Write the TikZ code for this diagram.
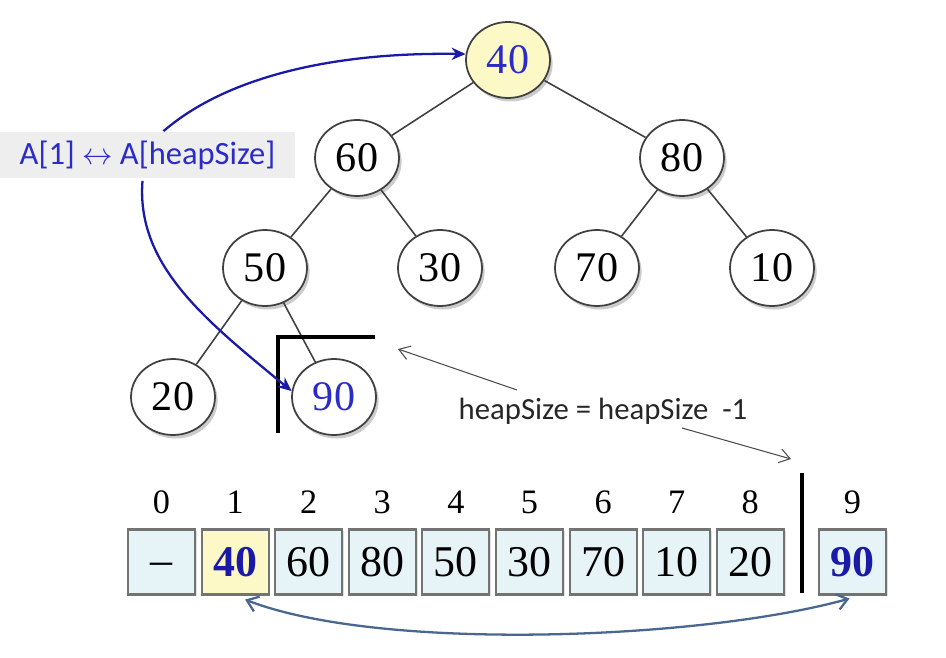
\documentclass[tikz,border=0pt]{standalone}
\usepackage{fontspec}
\newfontfamily\calib{Carlito}
\newfontfamily\tnr{Liberation Serif}
\usetikzlibrary{shapes.geometric,shadows,arrows.meta,calc}
\definecolor{nodeblue}{HTML}{2B2BC8}
\definecolor{arrblue}{HTML}{1A1AA6}
\definecolor{yel}{HTML}{FCF9C6}
\definecolor{cellfill}{HTML}{E6F3F7}
\definecolor{botarrow}{HTML}{4A6790}
\definecolor{lblbg}{HTML}{EEEEEE}
\tikzset{
  tnode/.style={ellipse, draw=black!75, line width=1pt, fill=white,
    minimum width=1.68cm, minimum height=1.52cm, inner sep=0pt,
    font=\tnr\fontsize{24}{26}\selectfont,
    drop shadow={opacity=0.4, shadow xshift=1.5pt, shadow yshift=-2pt}},
  cell/.style={rectangle, draw=black!55, line width=1.2pt, fill=cellfill,
    minimum width=1.34cm, minimum height=1.3cm, inner sep=0pt,
    font=\tnr\fontsize{25}{27}\selectfont,
    drop shadow={opacity=0.25, shadow xshift=1pt, shadow yshift=-1pt}},
  idx/.style={font=\tnr\fontsize{19.5}{21}\selectfont, inner sep=0pt},
  edge/.style={draw=black!75, line width=0.9pt},
  bluearrow/.style={draw=arrblue, line width=1.3pt, -{Stealth[length=8pt,width=7pt]}},
  grayarrow/.style={draw=black!70, line width=0.6pt, -{Straight Barb[length=6pt,width=8pt]}},
  thickbar/.style={draw=black, line width=2.4pt}
}
\begin{document}
\begin{tikzpicture}[x=0.02cm,y=-0.02cm]
\useasboundingbox (0,0) rectangle (946,658);

% tree nodes
\node[tnode, fill=yel, text=nodeblue] (n40) at (508,60) {40};
\node[tnode] (n60) at (357,158) {60};
\node[tnode] (n80) at (682,158) {80};
\node[tnode] (n50) at (265,268) {50};
\node[tnode] (n30) at (440,268) {30};
\node[tnode] (n70) at (597,268) {70};
\node[tnode] (n10) at (772,268) {10};
\node[tnode] (n20) at (173,397) {20};
\node[tnode, text=nodeblue] (n90) at (334,397) {90};

% tree edges
\draw[edge] (n40) -- (n60);
\draw[edge] (n40) -- (n80);
\draw[edge] (n60) -- (n50);
\draw[edge] (n60) -- (n30);
\draw[edge] (n80) -- (n70);
\draw[edge] (n80) -- (n10);
\draw[edge] (n50) -- (n20);
\draw[edge] (n50) -- (n90);

% bracket
\draw[thickbar, line cap=butt] (278,433) -- (278,337) -- (375,337);

% label box
\node[fill=lblbg, minimum width=5.9cm, minimum height=0.94cm, inner sep=0pt,
      text=nodeblue, font=\calib\fontsize{18.5}{20}\selectfont] (lbl) at (147.5,155)
      {A[1] $\leftrightarrow$ A[heapSize]};

% blue arrows
\draw[bluearrow] ($(lbl.north)+(16,0)$) .. controls (225,78) and (330,52) .. (n40.172);
\draw[bluearrow] ($(lbl.south)+(-5,2)$) .. controls (136,265) and (205,320) .. (n90.172);

% heapSize text and gray arrows
\node[font=\calib\fontsize{17.5}{19}\selectfont, text=black!85, inner sep=0pt] (hs) at (603,411)
      {heapSize = heapSize~~-1};
\coordinate (brk) at (398,349);
\coordinate (barTop) at (791,459);
\draw[grayarrow] (517,390) -- (brk);
\draw[grayarrow] (682,428) -- (barTop);

% array
\foreach \i/\v in {0/{\raisebox{-0.28em}[0pt][0pt]{–}},2/60,3/80,4/50,5/30,6/70,7/10,8/20} {
  \node[cell] (a\i) at ({161.5+73.6*\i},562) {\v};
}
\node[cell, fill=yel, text=arrblue, font=\tnr\bfseries\fontsize{25}{27}\selectfont] (a1) at (235.1,562) {40};
\node[cell, text=arrblue, font=\tnr\bfseries\fontsize{25}{27}\selectfont] (a9) at (852.5,562) {90};
\foreach \i in {0,...,8} {
  \node[idx] (i\i) at ({161.5+73.6*\i},502) {\i};
}
\node[idx] (i9) at (852.5,502) {9};

% vertical bar
\draw[thickbar] (802,473) -- (802,593);

% bottom double arrow
\draw[draw=botarrow, line width=1.3pt, {Straight Barb[length=6pt,width=9pt]}-{Straight Barb[length=6pt,width=9pt]}]
  ($(a1.south)+(10,4)$) .. controls (380,652) and (700,640) .. ($(a9.south)+(-3,3)$);
\end{tikzpicture}
\end{document}
